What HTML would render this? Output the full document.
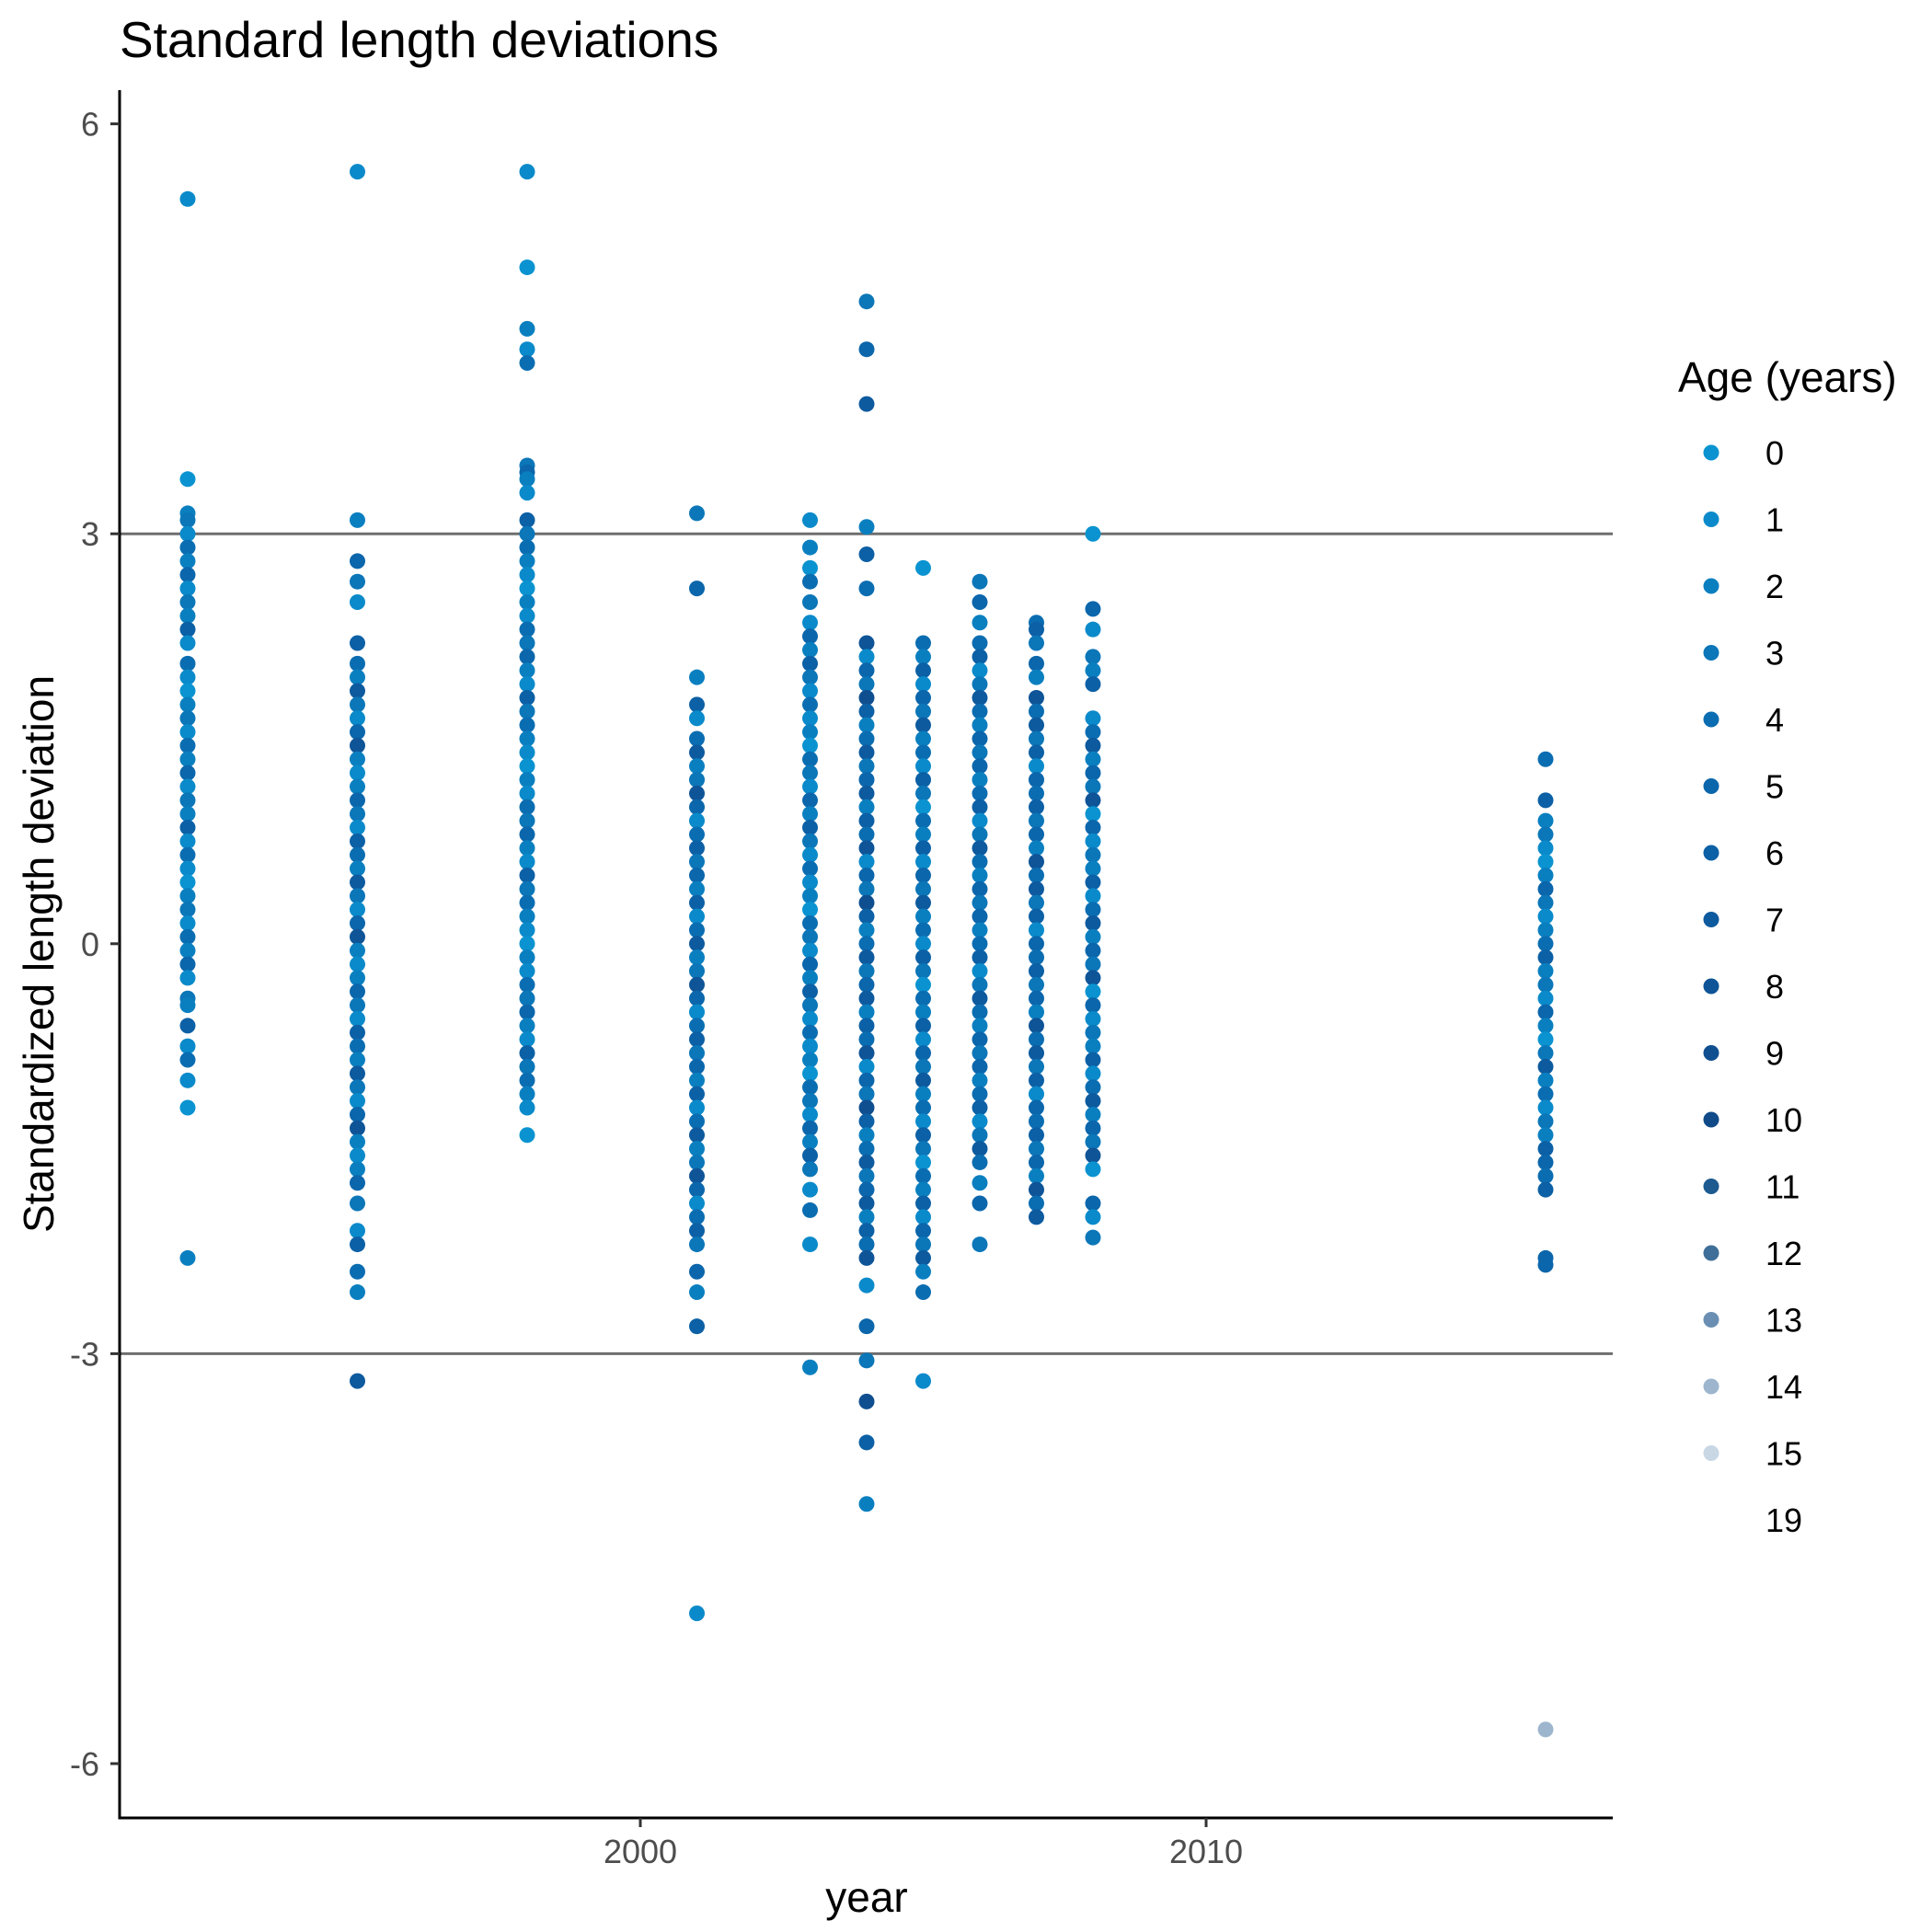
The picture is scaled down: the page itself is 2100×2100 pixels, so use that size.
<!DOCTYPE html>
<html><head><meta charset="utf-8"><style>
html,body{margin:0;padding:0;background:#fff;}
svg{display:block;font-family:"Liberation Sans",Arial,sans-serif;}
</style></head><body>
<svg id="chart" width="2100" height="2100" viewBox="0 0 2100 2100" xmlns="http://www.w3.org/2000/svg">
<text x="130" y="62" font-size="55" fill="#000">Standard length deviations</text>
<g id="plot"></g>
<g id="axes"></g>
<text x="942" y="2078" font-size="46" text-anchor="middle" fill="#000">year</text>
<text transform="translate(58,1037) rotate(-90)" font-size="46" text-anchor="middle" fill="#000">Standardized length deviation</text>
<g id="legend"></g>
</svg>
<script>
const years = [1992,1995,1998,2001,2003,2004,2005,2006,2007,2008,2016];
const vals1992 = [5.45,3.4,3.15,3.1,3.0,2.9,2.8,2.7,2.6,2.5,2.4,2.3,2.2,2.05,1.95,1.85,1.75,1.65,1.55,1.45,1.35,1.25,1.15,1.05,0.95,0.85,0.75,0.65,0.55,0.45,0.35,0.25,0.15,0.05,-0.05,-0.15,-0.25,-0.4,-0.45,-0.6,-0.75,-0.85,-1.0,-1.2,-2.3];
const vals1995 = [5.65,3.1,2.8,2.65,2.5,2.2,2.05,1.95,1.85,1.75,1.65,1.55,1.45,1.35,1.25,1.15,1.05,0.95,0.85,0.75,0.65,0.55,0.45,0.35,0.25,0.15,0.05,-0.05,-0.15,-0.25,-0.35,-0.45,-0.55,-0.65,-0.75,-0.85,-0.95,-1.05,-1.15,-1.25,-1.35,-1.45,-1.55,-1.65,-1.75,-1.9,-2.1,-2.2,-2.4,-2.55,-3.2];
const vals1998 = [5.65,4.95,4.5,4.35,4.25,3.5,3.45,3.4,3.3,3.1,3.0,2.9,2.8,2.7,2.6,2.5,2.4,2.3,2.2,2.1,2.0,1.9,1.8,1.7,1.6,1.5,1.4,1.3,1.2,1.1,1.0,0.9,0.8,0.7,0.6,0.5,0.4,0.3,0.2,0.1,0.0,-0.1,-0.2,-0.3,-0.4,-0.5,-0.6,-0.7,-0.8,-0.9,-1.0,-1.1,-1.2,-1.4];
const vals2001 = [3.15,2.6,1.95,1.75,1.65,1.5,1.4,1.3,1.2,1.1,1.0,0.9,0.8,0.7,0.6,0.5,0.4,0.3,0.2,0.1,0.0,-0.1,-0.2,-0.3,-0.4,-0.5,-0.6,-0.7,-0.8,-0.9,-1.0,-1.1,-1.2,-1.3,-1.4,-1.5,-1.6,-1.7,-1.8,-1.9,-2.0,-2.1,-2.2,-2.4,-2.55,-2.8,-4.9];
const vals2003 = [3.1,2.9,2.75,2.65,2.5,2.35,2.25,2.15,2.05,1.95,1.85,1.75,1.65,1.55,1.45,1.35,1.25,1.15,1.05,0.95,0.85,0.75,0.65,0.55,0.45,0.35,0.25,0.15,0.05,-0.05,-0.15,-0.25,-0.35,-0.45,-0.55,-0.65,-0.75,-0.85,-0.95,-1.05,-1.15,-1.25,-1.35,-1.45,-1.55,-1.65,-1.8,-1.95,-2.2,-3.1];
const vals2004 = [4.7,4.35,3.95,3.05,2.85,2.6,2.2,2.1,2.0,1.9,1.8,1.7,1.6,1.5,1.4,1.3,1.2,1.1,1.0,0.9,0.8,0.7,0.6,0.5,0.4,0.3,0.2,0.1,0.0,-0.1,-0.2,-0.3,-0.4,-0.5,-0.6,-0.7,-0.8,-0.9,-1.0,-1.1,-1.2,-1.3,-1.4,-1.5,-1.6,-1.7,-1.8,-1.9,-2.0,-2.1,-2.2,-2.3,-2.5,-2.8,-3.05,-3.35,-3.65,-4.1];
const vals2005 = [2.75,2.2,2.1,2.0,1.9,1.8,1.7,1.6,1.5,1.4,1.3,1.2,1.1,1.0,0.9,0.8,0.7,0.6,0.5,0.4,0.3,0.2,0.1,0.0,-0.1,-0.2,-0.3,-0.4,-0.5,-0.6,-0.7,-0.8,-0.9,-1.0,-1.1,-1.2,-1.3,-1.4,-1.5,-1.6,-1.7,-1.8,-1.9,-2.0,-2.1,-2.2,-2.3,-2.4,-2.55,-3.2];
const vals2006 = [2.65,2.5,2.35,2.2,2.1,2.0,1.9,1.8,1.7,1.6,1.5,1.4,1.3,1.2,1.1,1.0,0.9,0.8,0.7,0.6,0.5,0.4,0.3,0.2,0.1,0.0,-0.1,-0.2,-0.3,-0.4,-0.5,-0.6,-0.7,-0.8,-0.9,-1.0,-1.1,-1.2,-1.3,-1.4,-1.5,-1.6,-1.75,-1.9,-2.2];
const vals2007 = [2.35,2.3,2.2,2.05,1.95,1.8,1.7,1.6,1.5,1.4,1.3,1.2,1.1,1.0,0.9,0.8,0.7,0.6,0.5,0.4,0.3,0.2,0.1,0.0,-0.1,-0.2,-0.3,-0.4,-0.5,-0.6,-0.7,-0.8,-0.9,-1.0,-1.1,-1.2,-1.3,-1.4,-1.5,-1.6,-1.7,-1.8,-1.9,-2.0];
const vals2008 = [3.0,2.45,2.3,2.1,2.0,1.9,1.65,1.55,1.45,1.35,1.25,1.15,1.05,0.95,0.85,0.75,0.65,0.55,0.45,0.35,0.25,0.15,0.05,-0.05,-0.15,-0.25,-0.35,-0.45,-0.55,-0.65,-0.75,-0.85,-0.95,-1.05,-1.15,-1.25,-1.35,-1.45,-1.55,-1.65,-1.9,-2.0,-2.15];
const vals2016 = [1.35,1.05,0.9,0.8,0.7,0.6,0.5,0.4,0.3,0.2,0.1,0.0,-0.1,-0.2,-0.3,-0.4,-0.5,-0.6,-0.7,-0.8,-0.9,-1.0,-1.1,-1.2,-1.3,-1.4,-1.5,-1.6,-1.7,-1.8,-2.3,-2.35,-5.75];
const ages1992 = [1,0,2,3,1,4,2,5,1,3,2,6,1,4];
const ages1995 = [1,2,5,3,1,6,4,2,7,3,1,5,8,2];
const ages1998 = [1,0,2,1,4,3,5,2,1,6,3,4,2];
const ages2001 = [3,5,2,6,1,4,7,2,3,8,5,1,4,6];
const ages2003 = [1,2,0,4,3,1,5,2,6,3,1,4];
const ages2004 = [3,5,7,2,6,4,8,1,5,3,9,6,2,4,7];
const ages2005 = [0,4,2,6,1,5,3,7,2,4,1,6,3];
const ages2006 = [3,5,2,4,6,1,3,7,4,2,5];
const ages2007 = [4,6,3,5,2,8,4,7,3,6,1,5];
const ages2008 = [0,5,1,3,2,6,1,4,7,2,5,3,8];
const ages2016 = [4,6,2,3,1,0,2,5,3,1,2,4,6,2,3,1,5,2,0,3,7,2,4,1,3,2,6,5,4,6,5,5,14];
const legendLabels = ['0','1','2','3','4','5','6','7','8','9','10','11','12','13','14','15','19'];
const yTicks = [6,3,0,-3,-6];
const xTicks = [2000,2010];
const refLines = [3,-3];

const colors = {0:'#0a93d0',1:'#0a8aca',2:'#0a7fc0',3:'#0b76b8',4:'#0b6db1',5:'#0b66ab',6:'#0c60a5',7:'#0d5a9e',8:'#0e5497',9:'#0f4f90',10:'#104a89',11:'#1c5a90',12:'#3f6f98',13:'#6a8fb2',14:'#9db6ce',15:'#c9d7e5',19:'#ffffff'};

const NS='http://www.w3.org/2000/svg';
const L=130,R=1753,T=98,B=1976;
function xs(yr){return 696+(yr-2000)*61.5;}
function ys(v){return 1025.8-v*148.53;}
function mk(tag,attrs,parent){const e=document.createElementNS(NS,tag);for(const k in attrs)e.setAttribute(k,attrs[k]);parent.appendChild(e);return e;}

const plot=document.getElementById('plot');
const axes=document.getElementById('axes');
const legend=document.getElementById('legend');

refLines.forEach(v=>{
  const l=mk('line',{x1:L,x2:R,y1:ys(v),y2:ys(v),stroke:'#6e6e6e','stroke-width':3},plot);
  
  
});

const valsAll=[vals1992,vals1995,vals1998,vals2001,vals2003,vals2004,vals2005,vals2006,vals2007,vals2008,vals2016];
const agesAll=[ages1992,ages1995,ages1998,ages2001,ages2003,ages2004,ages2005,ages2006,ages2007,ages2008,ages2016];
years.forEach((yr,j)=>{
  const vs=valsAll[j],as=agesAll[j];
  vs.forEach((v,i)=>{
    const a=as[i%as.length];
    const c=mk('circle',{cx:xs(yr),cy:ys(v),r:8.5,fill:colors[a]},plot);
    
    
  });
});

mk('line',{x1:L,x2:L,y1:T,y2:B+1.5,stroke:'#000','stroke-width':3},axes);
mk('line',{x1:L-1.5,x2:R,y1:B,y2:B,stroke:'#000','stroke-width':3},axes);
yTicks.forEach(v=>{
  const t=mk('line',{x1:L-10,x2:L,y1:ys(v),y2:ys(v),stroke:'#333','stroke-width':3},axes);
  
  
  const tx=mk('text',{x:L-22,y:ys(v)+13,'font-size':36,'text-anchor':'end',fill:'#4d4d4d'},axes);
  tx.textContent=String(v);
  
  
});
xTicks.forEach(v=>{
  const t=mk('line',{x1:xs(v),x2:xs(v),y1:B,y2:B+10,stroke:'#333','stroke-width':3},axes);
  
  
  const tx=mk('text',{x:xs(v),y:B+49,'font-size':36,'text-anchor':'middle',fill:'#4d4d4d'},axes);
  tx.textContent=String(v);
  
  
});

const lt=mk('text',{x:1824,y:426,'font-size':46,fill:'#000'},legend);
lt.textContent='Age (years)';


legendLabels.forEach((lab,i)=>{
  const cy=492+i*72.5;
  const g=mk('g',{},legend);
  
  
  mk('circle',{cx:1860,cy:cy,r:8.5,fill:colors[+lab]},g);
  const tx=mk('text',{x:1919,y:cy+13,'font-size':36,fill:'#000'},g);
  tx.textContent=lab;
});
</script>
</body></html>
